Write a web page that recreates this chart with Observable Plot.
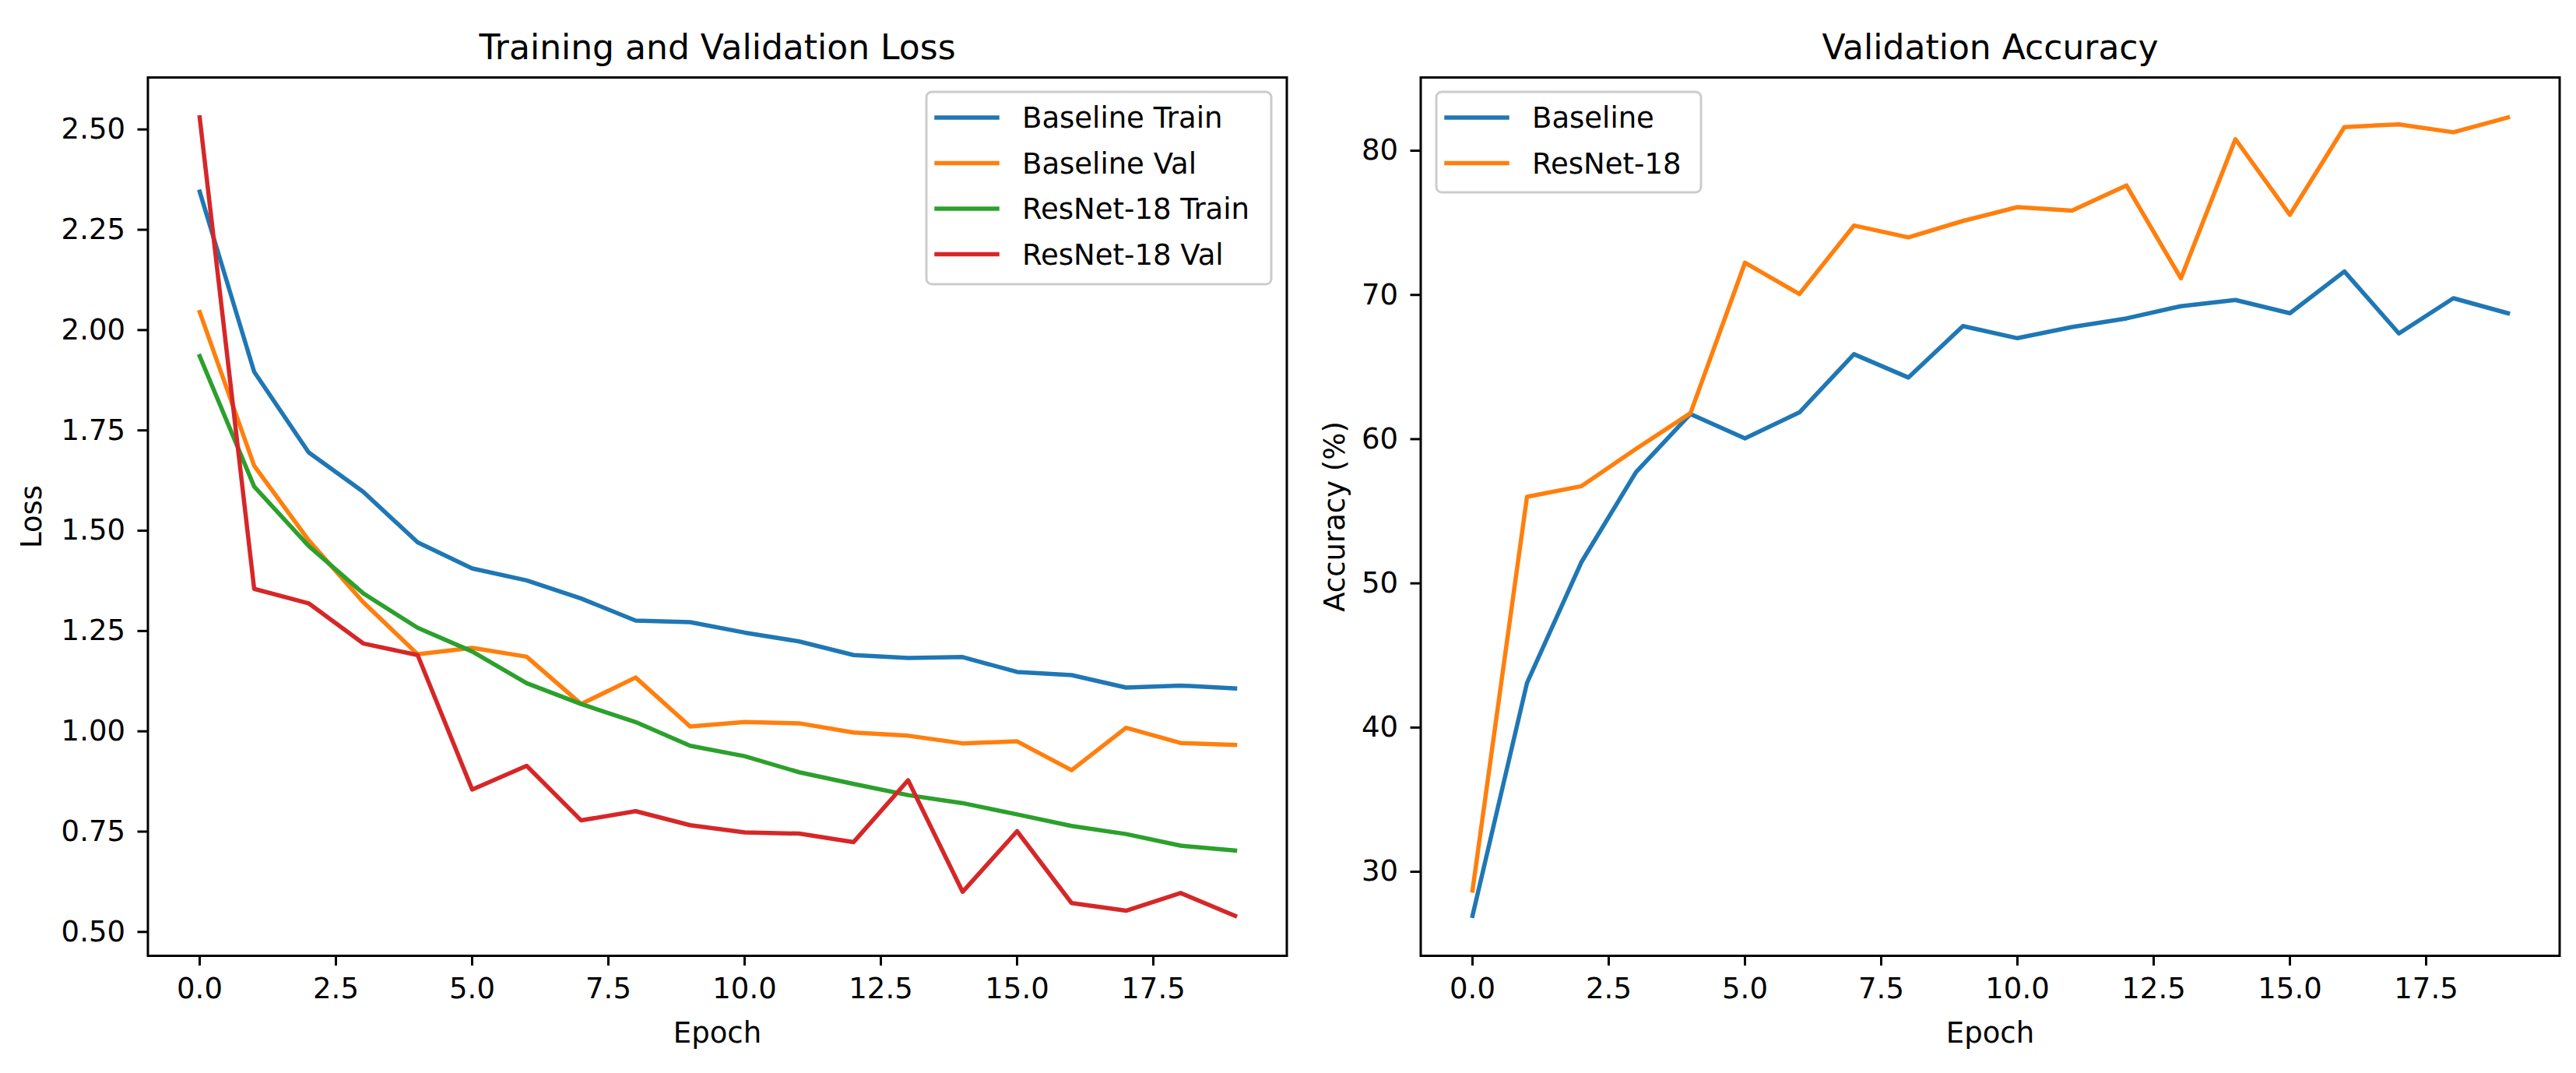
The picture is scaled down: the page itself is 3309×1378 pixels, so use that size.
<!DOCTYPE html>
<html>
<head>
<meta charset="utf-8">
<script src="https://cdn.jsdelivr.net/npm/d3@7"></script>
<script src="https://cdn.jsdelivr.net/npm/@observablehq/plot@0.6"></script>
<style>
  body { margin: 0; background: #ffffff; }
  #wrap { position: relative; width: 3309px; height: 1378px; overflow: hidden; background: #ffffff; font-family: "DejaVu Sans", sans-serif; }
  .panel { position: absolute; top: 0; }
  .panel svg { max-width: none; overflow: visible; }
  #legends { position: absolute; left: 0; top: 0; pointer-events: none; }
</style>
</head>
<body>
<div id="wrap">
  <div id="left" class="panel" style="left:0px"></div>
  <div id="right" class="panel" style="left:1650px"></div>
  <svg id="legends" width="3309" height="1378"></svg>
</div>
<script>
// ---------------- data ----------------
const epochs = [0, 1, 2, 3, 4, 5, 6, 7, 8, 9, 10, 11, 12, 13, 14, 15, 16, 17, 18, 19];

const baselineTrainLoss = [2.345, 1.896, 1.695, 1.597, 1.471, 1.406, 1.376, 1.331, 1.276, 1.272, 1.246, 1.224, 1.190, 1.183, 1.185, 1.148, 1.140, 1.109, 1.114, 1.107];
const baselineValLoss   = [2.045, 1.662, 1.476, 1.322, 1.192, 1.208, 1.186, 1.068, 1.134, 1.012, 1.023, 1.020, 0.997, 0.989, 0.970, 0.975, 0.903, 1.009, 0.971, 0.966];
const resnetTrainLoss   = [1.935, 1.610, 1.462, 1.344, 1.258, 1.199, 1.120, 1.068, 1.023, 0.964, 0.938, 0.898, 0.869, 0.841, 0.821, 0.793, 0.764, 0.744, 0.715, 0.703];
const resnetValLoss     = [2.530, 1.355, 1.319, 1.219, 1.190, 0.855, 0.914, 0.778, 0.801, 0.766, 0.748, 0.745, 0.724, 0.878, 0.600, 0.751, 0.572, 0.553, 0.597, 0.540];

const baselineValAcc = [26.94, 43.09, 51.48, 57.71, 61.74, 60.05, 61.86, 65.89, 64.27, 67.84, 67.00, 67.77, 68.37, 69.22, 69.65, 68.73, 71.63, 67.33, 69.77, 68.73];
const resnetValAcc   = [28.70, 56.00, 56.74, 59.32, 61.80, 72.23, 70.06, 74.81, 73.99, 75.13, 76.09, 75.85, 77.59, 71.15, 80.80, 75.56, 81.64, 81.83, 81.28, 82.31];

const lossNames = ["Baseline Train", "Baseline Val", "ResNet-18 Train", "ResNet-18 Val"];
const accNames = ["Baseline", "ResNet-18"];
const palette = ["#1f77b4", "#ff7f0e", "#2ca02c", "#d62728"];

const xTicks = [0, 2.5, 5, 7.5, 10, 12.5, 15, 17.5];
const lossTicks = [0.5, 0.75, 1.0, 1.25, 1.5, 1.75, 2.0, 2.25, 2.5];
const accTicks = [30, 40, 50, 60, 70, 80];

const lossTitle = "Training and Validation Loss";
const accTitle = "Validation Accuracy";
const xLabel = "Epoch";
const lossYLabel = "Loss";
const accYLabel = "Accuracy (%)";

// ---------------- helpers ----------------
function toRows(names, arrays) {
  const rows = [];
  names.forEach((name, k) => {
    arrays[k].forEach((v, i) => rows.push({epoch: epochs[i], value: v, series: name}));
  });
  return rows;
}
function padded(values, frac) {
  const [a, b] = d3.extent(values);
  const m = (b - a) * frac;
  return [a - m, b + m];
}
function xPadded() {
  const [a, b] = d3.extent(epochs);
  const m = (b - a) * 0.05;
  return [a - m, b + m];
}

const FS = 37;

function panel({width, marginLeft, marginRight, rows, names, yTicks, yFormat, title, ylabel, ylabelDx}) {
  return Plot.plot({
    width,
    height: 1378,
    marginLeft,
    marginRight,
    marginTop: 99,
    marginBottom: 151,
    style: {
      fontFamily: "DejaVu Sans, sans-serif",
      fontSize: FS + "px",
      color: "#000",
      background: "transparent",
      maxWidth: "none",
      overflow: "visible"
    },
    x: {domain: xPadded()},
    y: {domain: padded(rows.map(d => d.value), 0.05)},
    color: {domain: names, range: palette.slice(0, names.length)},
    marks: [
      Plot.line(rows, {x: "epoch", y: "value", z: "series", stroke: "series", strokeWidth: 5.5, strokeLinejoin: "round", strokeLinecap: "square"}),
      Plot.frame({stroke: "#000", strokeWidth: 3}),
      Plot.axisX({ticks: xTicks, tickFormat: d => d.toFixed(1), tickSize: 13, tickPadding: 15, strokeWidth: 3, stroke: "#000", fill: "#000", label: null}),
      Plot.axisY({ticks: yTicks, tickFormat: yFormat, tickSize: 13, tickPadding: 16, strokeWidth: 3, stroke: "#000", fill: "#000", label: null}),
      Plot.text([title], {text: d => d, frameAnchor: "top", dy: -24, lineAnchor: "bottom", fontSize: 44, fill: "#000"}),
      Plot.text([xLabel], {text: d => d, frameAnchor: "bottom", dy: 111, lineAnchor: "bottom", fontSize: FS, fill: "#000"}),
      Plot.text([ylabel], {text: d => d, frameAnchor: "left", dx: ylabelDx, rotate: -90, lineAnchor: "bottom", textAnchor: "middle", fontSize: FS, fill: "#000"})
    ]
  });
}

const lossRows = toRows(lossNames, [baselineTrainLoss, baselineValLoss, resnetTrainLoss, resnetValLoss]);
const accRows = toRows(accNames, [baselineValAcc, resnetValAcc]);

document.getElementById("left").appendChild(panel({
  width: 1700, marginLeft: 189.5, marginRight: 47.5,
  rows: lossRows, names: lossNames, yTicks: lossTicks, yFormat: d => d.toFixed(2),
  title: lossTitle, ylabel: lossYLabel, ylabelDx: -137.5
}));
document.getElementById("right").appendChild(panel({
  width: 1659, marginLeft: 174.5, marginRight: 21.5,
  rows: accRows, names: accNames, yTicks: accTicks, yFormat: d => String(d),
  title: accTitle, ylabel: accYLabel, ylabelDx: -98.5
}));

// ---------------- legends (matplotlib-style boxes) ----------------
const lsvg = d3.select("#legends");
function legend(x0, y0, w, h, names) {
  const g = lsvg.append("g");
  g.append("rect").attr("x", x0).attr("y", y0).attr("width", w).attr("height", h)
    .attr("rx", 7).attr("ry", 7)
    .attr("fill", "#ffffff").attr("fill-opacity", 0.8)
    .attr("stroke", "#cccccc").attr("stroke-width", 3);
  names.forEach((name, i) => {
    const y = y0 + 33 + i * 58.5;
    g.append("line").attr("x1", x0 + 13).attr("x2", x0 + 91).attr("y1", y).attr("y2", y)
      .attr("stroke", palette[i]).attr("stroke-width", 5.5).attr("stroke-linecap", "square");
    g.append("text").attr("x", x0 + 123).attr("y", y + 13)
      .attr("font-family", "DejaVu Sans, sans-serif").attr("font-size", FS)
      .attr("fill", "#000").text(name);
  });
}
legend(1190, 118, 443, 247, lossNames);
legend(1845, 118, 340, 129, accNames);
</script>
</body>
</html>
